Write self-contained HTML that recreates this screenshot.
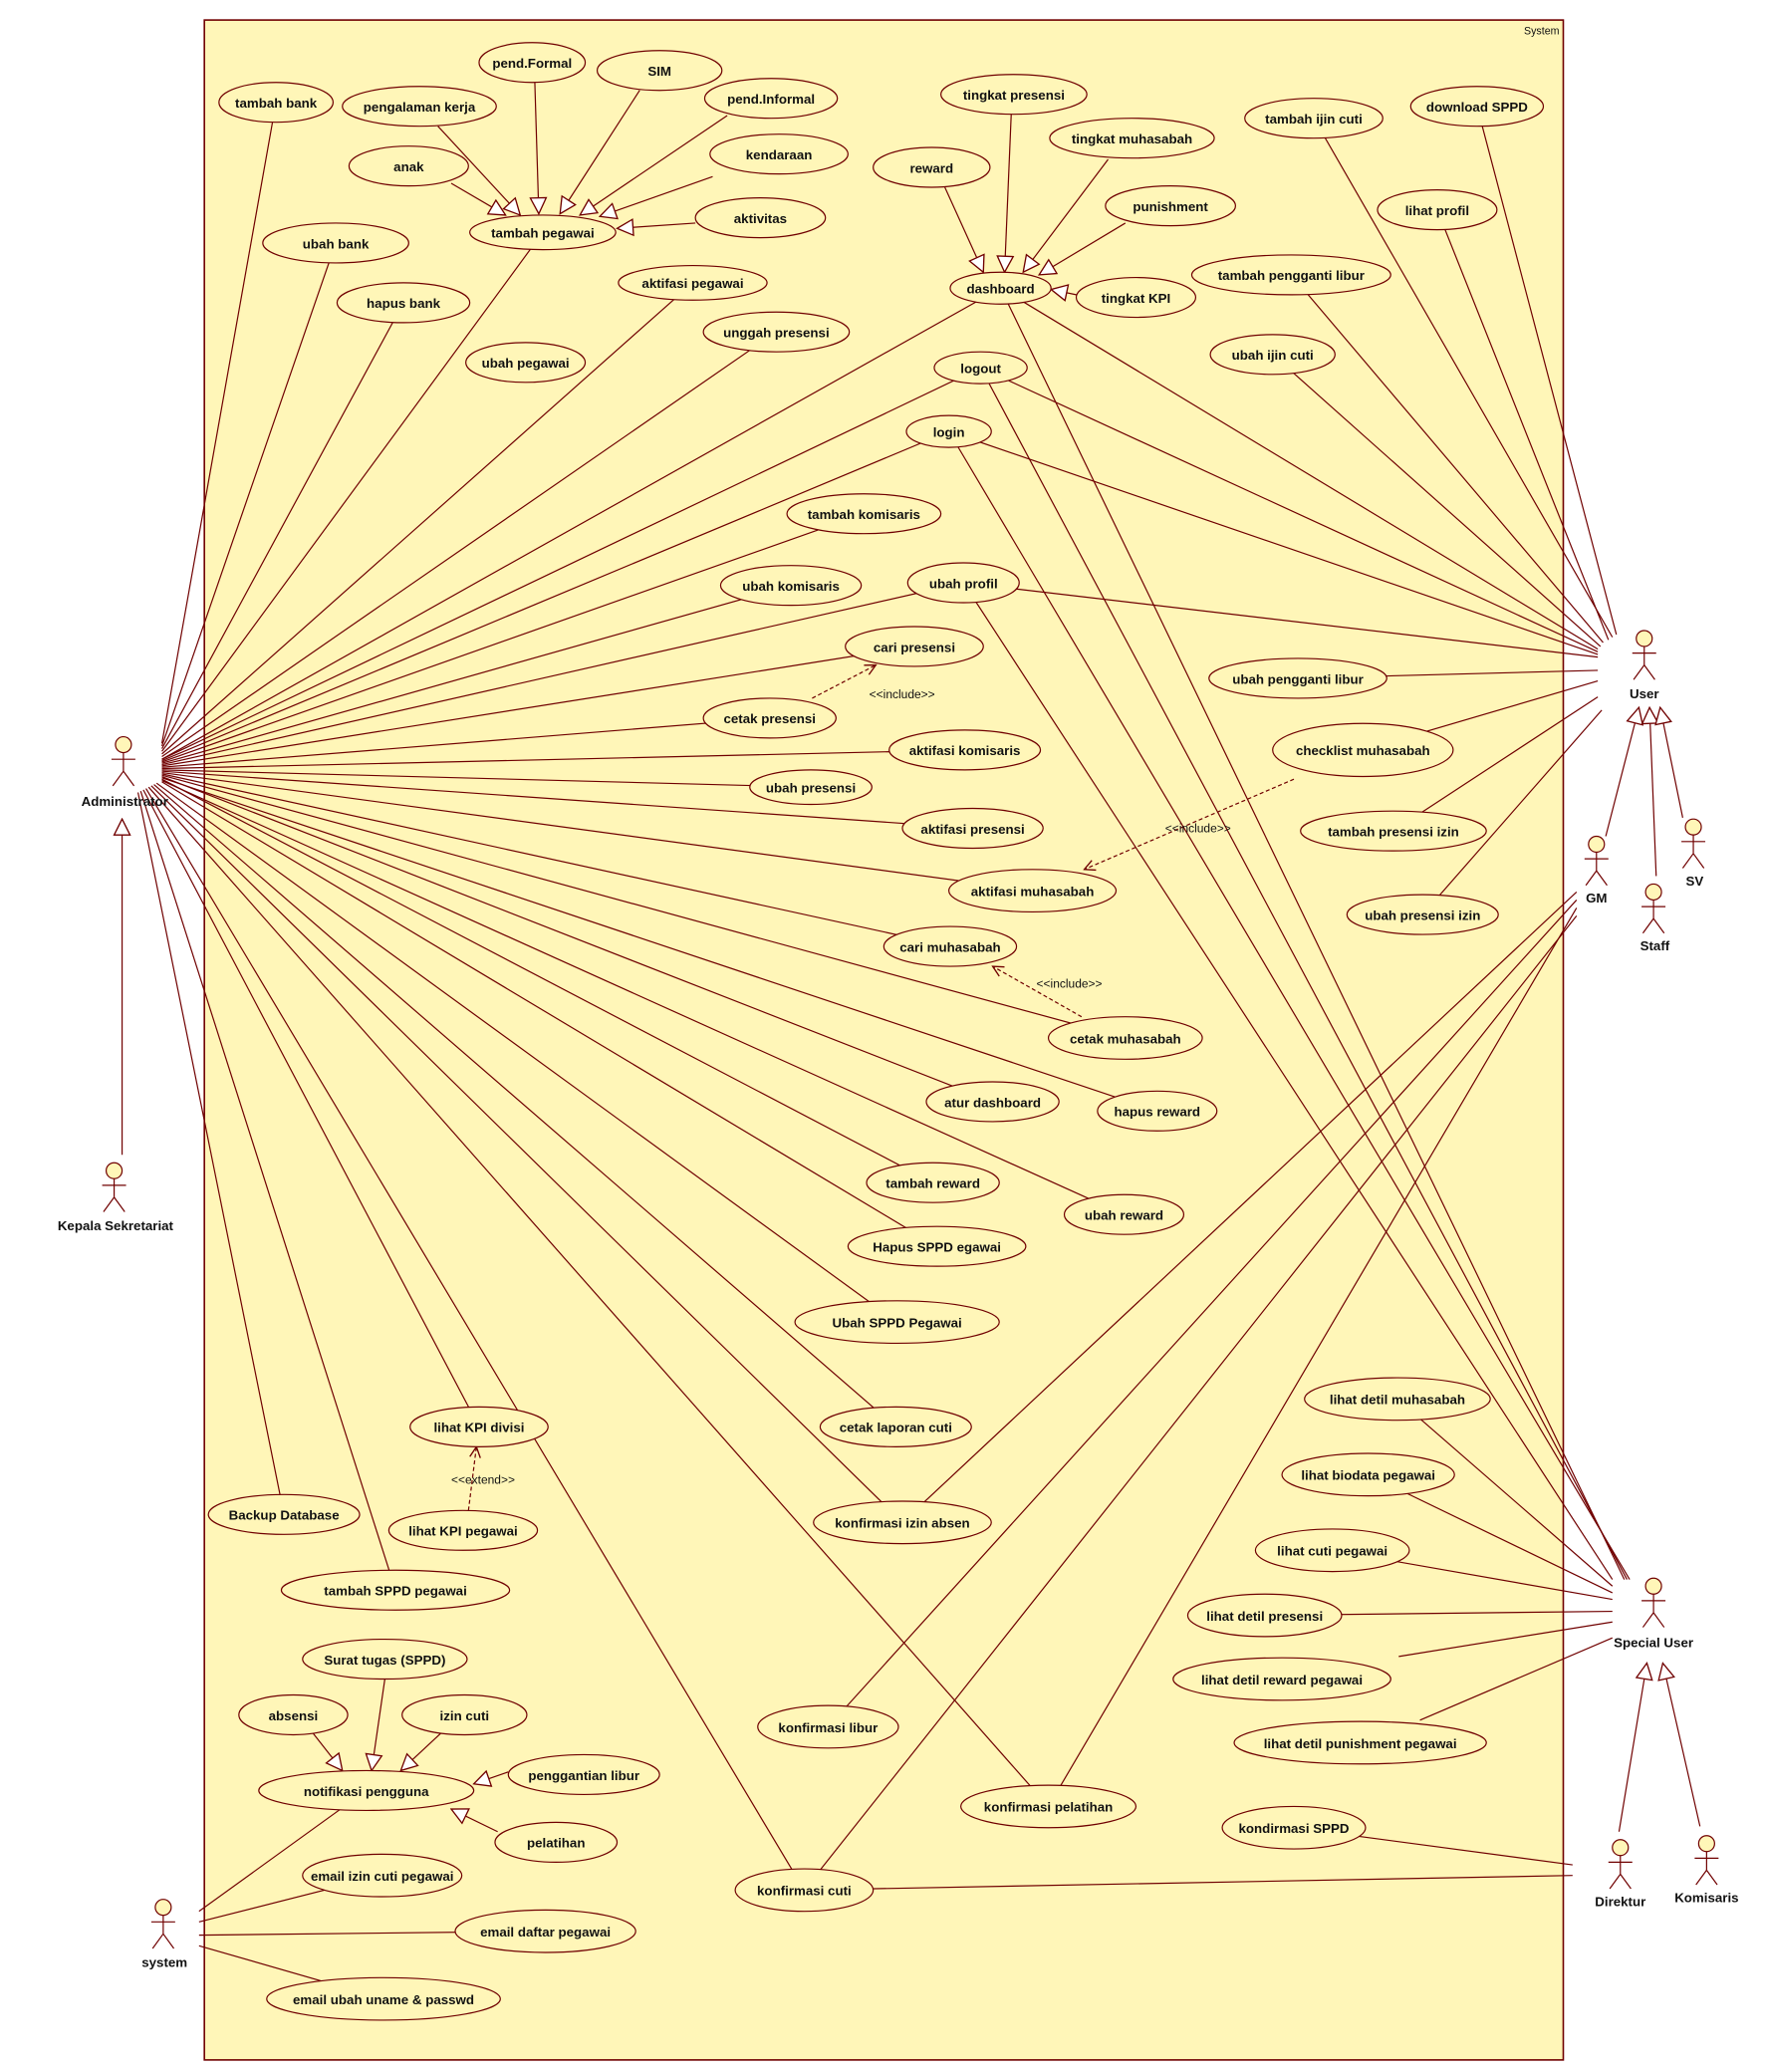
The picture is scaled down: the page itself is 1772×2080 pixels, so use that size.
<!DOCTYPE html>
<html><head><meta charset="utf-8"><style>
html,body{margin:0;padding:0;background:#fff;}
svg{display:block;}
text{font-family:"Liberation Sans",sans-serif;font-weight:bold;font-size:10px;fill:#111;}
</style></head><body>
<svg width="1772" height="2080" viewBox="0 0 1330 1561" xmlns="http://www.w3.org/2000/svg">
<defs>
<marker id="gen" markerWidth="14" markerHeight="14" refX="13" refY="7" orient="auto" markerUnits="userSpaceOnUse"><path d="M1,1 L13,7 L1,13 Z" fill="#fff" stroke="#700000" stroke-width="1"/></marker>
<marker id="opn" markerWidth="10" markerHeight="10" refX="9" refY="5" orient="auto" markerUnits="userSpaceOnUse"><path d="M1,1 L9,5 L1,9" fill="none" stroke="#700000" stroke-width="1"/></marker>
</defs>
<rect x="154" y="15" width="1024" height="1537" fill="#fff6b8" stroke="#700000" stroke-width="1.2"/>
<text x="1175" y="26" text-anchor="end" style="font-weight:normal;font-size:8px">System</text>

<g stroke="#700000" stroke-width="0.9" fill="none">
<!-- Administrator -->
<line x1="122" y1="560" x2="208" y2="77"/>
<line x1="122" y1="562" x2="253" y2="183"/>
<line x1="122" y1="564" x2="304" y2="228"/>
<line x1="122" y1="566" x2="409" y2="175"/>
<line x1="122" y1="568" x2="522" y2="213"/>
<line x1="122" y1="570" x2="585" y2="250"/>
<line x1="122" y1="572" x2="754" y2="217"/>
<line x1="122" y1="572" x2="739" y2="277"/>
<line x1="122" y1="573" x2="715" y2="325"/>
<line x1="122" y1="574" x2="651" y2="387"/>
<line x1="122" y1="575" x2="596" y2="441"/>
<line x1="122" y1="576" x2="726" y2="439"/>
<line x1="122" y1="577" x2="689" y2="487"/>
<line x1="122" y1="578" x2="580" y2="541"/>
<line x1="122" y1="579" x2="727" y2="565"/>
<line x1="122" y1="580" x2="611" y2="593"/>
<line x1="122" y1="581" x2="733" y2="624"/>
<line x1="122" y1="582" x2="778" y2="671"/>
<line x1="122" y1="583" x2="716" y2="713"/>
<line x1="122" y1="584" x2="848" y2="782"/>
<line x1="122" y1="585" x2="748" y2="830"/>
<line x1="122" y1="586" x2="872" y2="837"/>
<line x1="122" y1="587" x2="703" y2="891"/>
<line x1="122" y1="588" x2="847" y2="915"/>
<line x1="122" y1="589" x2="706" y2="939"/>
<line x1="118" y1="590" x2="676" y2="996"/>
<line x1="116" y1="591" x2="675" y2="1075"/>
<line x1="114" y1="592" x2="680" y2="1147"/>
<line x1="112" y1="593" x2="790" y2="1361"/>
<line x1="110" y1="594" x2="606" y2="1424"/>
<line x1="108" y1="595" x2="361" y2="1075"/>
<line x1="106" y1="596" x2="298" y2="1198"/>
<line x1="104" y1="597" x2="214" y2="1141"/>
<!-- User -->
<line x1="1215" y1="480" x2="990" y2="89"/>
<line x1="1218" y1="478" x2="1113" y2="80"/>
<line x1="1212" y1="482" x2="1083" y2="158"/>
<line x1="1208" y1="484" x2="973" y2="207"/>
<line x1="1206" y1="487" x2="959" y2="267"/>
<line x1="1204" y1="489" x2="754" y2="217"/>
<line x1="1204" y1="491" x2="739" y2="277"/>
<line x1="1204" y1="493" x2="715" y2="325"/>
<line x1="1204" y1="495" x2="726" y2="439"/>
<line x1="1204" y1="505" x2="978" y2="511"/>
<line x1="1204" y1="513" x2="1027" y2="565"/>
<line x1="1204" y1="525" x2="1050" y2="626"/>
<line x1="1207" y1="535" x2="1072" y2="689"/>
<!-- GM area to konfirmasi -->
<line x1="1188" y1="672" x2="680" y2="1147"/>
<line x1="1188" y1="678" x2="624" y2="1301"/>
<line x1="1188" y1="684" x2="790" y2="1361"/>
<line x1="1188" y1="690" x2="606" y2="1424"/>
<!-- Special User -->
<line x1="1224" y1="1190" x2="754" y2="217"/>
<line x1="1226" y1="1190" x2="739" y2="277"/>
<line x1="1228" y1="1190" x2="715" y2="325"/>
<line x1="1215" y1="1190" x2="726" y2="439"/>
<line x1="1215" y1="1195" x2="1053" y2="1054"/>
<line x1="1215" y1="1200" x2="1031" y2="1111"/>
<line x1="1215" y1="1205" x2="1004" y2="1168"/>
<line x1="1215" y1="1214" x2="953" y2="1217"/>
<line x1="1215" y1="1222" x2="1054" y2="1248"/>
<line x1="1215" y1="1234" x2="1070" y2="1296"/>
<!-- Direktur -->
<line x1="1185" y1="1405" x2="975" y2="1377"/>
<line x1="1185" y1="1413" x2="606" y2="1424"/>
<!-- system -->
<line x1="150" y1="1440" x2="276" y2="1349"/>
<line x1="150" y1="1448" x2="288" y2="1413"/>
<line x1="150" y1="1458" x2="411" y2="1455"/>
<line x1="150" y1="1466" x2="289" y2="1506"/>
</g>

<!-- generalizations to use cases -->
<g stroke="#700000" stroke-width="0.9" fill="none" marker-end="url(#gen)">
<line x1="340" y1="138" x2="381" y2="162"/>
<line x1="330" y1="95" x2="392" y2="162"/>
<line x1="403" y1="62" x2="406" y2="161"/>
<line x1="482" y1="68" x2="422" y2="161"/>
<line x1="548" y1="87" x2="437" y2="162"/>
<line x1="537" y1="133" x2="452" y2="163"/>
<line x1="524" y1="168" x2="465" y2="172"/>
<line x1="712" y1="141" x2="741" y2="205"/>
<line x1="762" y1="86" x2="757" y2="205"/>
<line x1="835" y1="120" x2="771" y2="205"/>
<line x1="848" y1="168" x2="783" y2="207"/>
<line x1="811" y1="222" x2="792" y2="218"/>
<line x1="236" y1="1306" x2="258" y2="1334"/>
<line x1="290" y1="1265" x2="280" y2="1334"/>
<line x1="332" y1="1306" x2="302" y2="1334"/>
<line x1="383" y1="1335" x2="357" y2="1344"/>
<line x1="375" y1="1380" x2="340" y2="1363"/>
<!-- actor generalizations -->
<line x1="92" y1="870" x2="92" y2="617"/>
<line x1="1210" y1="630" x2="1235" y2="533"/>
<line x1="1248" y1="660" x2="1243" y2="533"/>
<line x1="1268" y1="616" x2="1251" y2="533"/>
<line x1="1220" y1="1380" x2="1241" y2="1253"/>
<line x1="1281" y1="1376" x2="1253" y2="1253"/>
</g>

<!-- include / extend -->
<g stroke="#700000" stroke-width="0.9" fill="none" stroke-dasharray="3,2" marker-end="url(#opn)">
<line x1="612" y1="526" x2="660" y2="501"/>
<line x1="975" y1="587" x2="817" y2="655"/>
<line x1="815" y1="766" x2="748" y2="728"/>
<line x1="353" y1="1138" x2="359" y2="1090"/>
</g>
<text x="655" y="526" style="font-weight:normal;font-size:9px">&lt;&lt;include&gt;&gt;</text>
<text x="878" y="627" style="font-weight:normal;font-size:9px">&lt;&lt;include&gt;&gt;</text>
<text x="781" y="744" style="font-weight:normal;font-size:9px">&lt;&lt;include&gt;&gt;</text>
<text x="340" y="1118" style="font-weight:normal;font-size:9px">&lt;&lt;extend&gt;&gt;</text>

<g stroke="#700000" stroke-width="0.9" fill="#fff6b8">
<ellipse cx="208" cy="77" rx="43" ry="15"/>
<ellipse cx="316" cy="80" rx="58" ry="15"/>
<ellipse cx="401" cy="47" rx="40" ry="15"/>
<ellipse cx="497" cy="53" rx="47" ry="15"/>
<ellipse cx="581" cy="74" rx="50" ry="15"/>
<ellipse cx="308" cy="125" rx="45" ry="15"/>
<ellipse cx="587" cy="116" rx="52" ry="15"/>
<ellipse cx="573" cy="164" rx="49" ry="15"/>
<ellipse cx="409" cy="175" rx="55" ry="13"/>
<ellipse cx="253" cy="183" rx="55" ry="15"/>
<ellipse cx="304" cy="228" rx="50" ry="15"/>
<ellipse cx="522" cy="213" rx="56" ry="13"/>
<ellipse cx="585" cy="250" rx="55" ry="15"/>
<ellipse cx="396" cy="273" rx="45" ry="15"/>
<ellipse cx="764" cy="71" rx="55" ry="15"/>
<ellipse cx="702" cy="126" rx="44" ry="15"/>
<ellipse cx="853" cy="104" rx="62" ry="15"/>
<ellipse cx="882" cy="155" rx="49" ry="15"/>
<ellipse cx="754" cy="217" rx="38" ry="12"/>
<ellipse cx="856" cy="224" rx="45" ry="15"/>
<ellipse cx="739" cy="277" rx="35" ry="12"/>
<ellipse cx="715" cy="325" rx="32" ry="12"/>
<ellipse cx="990" cy="89" rx="52" ry="15"/>
<ellipse cx="1113" cy="80" rx="50" ry="15"/>
<ellipse cx="1083" cy="158" rx="45" ry="15"/>
<ellipse cx="973" cy="207" rx="75" ry="15"/>
<ellipse cx="959" cy="267" rx="47" ry="15"/>
<ellipse cx="651" cy="387" rx="58" ry="15"/>
<ellipse cx="596" cy="441" rx="53" ry="15"/>
<ellipse cx="726" cy="439" rx="42" ry="15"/>
<ellipse cx="689" cy="487" rx="52" ry="15"/>
<ellipse cx="580" cy="541" rx="50" ry="15"/>
<ellipse cx="978" cy="511" rx="67" ry="15"/>
<ellipse cx="1027" cy="565" rx="68" ry="20"/>
<ellipse cx="727" cy="565" rx="57" ry="15"/>
<ellipse cx="611" cy="593" rx="46" ry="13"/>
<ellipse cx="733" cy="624" rx="53" ry="15"/>
<ellipse cx="1050" cy="626" rx="70" ry="15"/>
<ellipse cx="778" cy="671" rx="63" ry="16"/>
<ellipse cx="1072" cy="689" rx="57" ry="15"/>
<ellipse cx="716" cy="713" rx="50" ry="15"/>
<ellipse cx="848" cy="782" rx="58" ry="16"/>
<ellipse cx="748" cy="830" rx="50" ry="15"/>
<ellipse cx="872" cy="837" rx="45" ry="15"/>
<ellipse cx="703" cy="891" rx="50" ry="15"/>
<ellipse cx="847" cy="915" rx="45" ry="15"/>
<ellipse cx="706" cy="939" rx="67" ry="15"/>
<ellipse cx="676" cy="996" rx="77" ry="16"/>
<ellipse cx="675" cy="1075" rx="57" ry="15"/>
<ellipse cx="361" cy="1075" rx="52" ry="15"/>
<ellipse cx="214" cy="1141" rx="57" ry="15"/>
<ellipse cx="349" cy="1153" rx="56" ry="15"/>
<ellipse cx="680" cy="1147" rx="67" ry="16"/>
<ellipse cx="298" cy="1198" rx="86" ry="15"/>
<ellipse cx="1053" cy="1054" rx="70" ry="16"/>
<ellipse cx="1031" cy="1111" rx="65" ry="16"/>
<ellipse cx="1004" cy="1168" rx="58" ry="16"/>
<ellipse cx="953" cy="1217" rx="58" ry="16"/>
<ellipse cx="966" cy="1265" rx="82" ry="16"/>
<ellipse cx="1025" cy="1313" rx="95" ry="16"/>
<ellipse cx="290" cy="1250" rx="62" ry="15"/>
<ellipse cx="221" cy="1292" rx="41" ry="15"/>
<ellipse cx="350" cy="1292" rx="47" ry="15"/>
<ellipse cx="276" cy="1349" rx="81" ry="15"/>
<ellipse cx="440" cy="1337" rx="57" ry="15"/>
<ellipse cx="419" cy="1388" rx="46" ry="15"/>
<ellipse cx="624" cy="1301" rx="53" ry="16"/>
<ellipse cx="790" cy="1361" rx="66" ry="16"/>
<ellipse cx="975" cy="1377" rx="54" ry="16"/>
<ellipse cx="606" cy="1424" rx="52" ry="16"/>
<ellipse cx="288" cy="1413" rx="60" ry="16"/>
<ellipse cx="411" cy="1455" rx="68" ry="16"/>
<ellipse cx="289" cy="1506" rx="88" ry="16"/>
</g>

<g text-anchor="middle">
<text x="208" y="81">tambah bank</text>
<text x="316" y="84">pengalaman kerja</text>
<text x="401" y="51">pend.Formal</text>
<text x="497" y="57">SIM</text>
<text x="581" y="78">pend.Informal</text>
<text x="308" y="129">anak</text>
<text x="587" y="120">kendaraan</text>
<text x="573" y="168">aktivitas</text>
<text x="409" y="179">tambah pegawai</text>
<text x="253" y="187">ubah bank</text>
<text x="304" y="232">hapus bank</text>
<text x="522" y="217">aktifasi pegawai</text>
<text x="585" y="254">unggah presensi</text>
<text x="396" y="277">ubah pegawai</text>
<text x="764" y="75">tingkat presensi</text>
<text x="702" y="130">reward</text>
<text x="853" y="108">tingkat muhasabah</text>
<text x="882" y="159">punishment</text>
<text x="754" y="221">dashboard</text>
<text x="856" y="228">tingkat KPI</text>
<text x="739" y="281">logout</text>
<text x="715" y="329">login</text>
<text x="990" y="93">tambah ijin cuti</text>
<text x="1113" y="84">download SPPD</text>
<text x="1083" y="162">lihat profil</text>
<text x="973" y="211">tambah pengganti libur</text>
<text x="959" y="271">ubah ijin cuti</text>
<text x="651" y="391">tambah komisaris</text>
<text x="596" y="445">ubah komisaris</text>
<text x="726" y="443">ubah profil</text>
<text x="689" y="491">cari presensi</text>
<text x="580" y="545">cetak presensi</text>
<text x="978" y="515">ubah pengganti libur</text>
<text x="1027" y="569">checklist muhasabah</text>
<text x="727" y="569">aktifasi komisaris</text>
<text x="611" y="597">ubah presensi</text>
<text x="733" y="628">aktifasi presensi</text>
<text x="1050" y="630">tambah presensi izin</text>
<text x="778" y="675">aktifasi muhasabah</text>
<text x="1072" y="693">ubah presensi izin</text>
<text x="716" y="717">cari muhasabah</text>
<text x="848" y="786">cetak muhasabah</text>
<text x="748" y="834">atur dashboard</text>
<text x="872" y="841">hapus reward</text>
<text x="703" y="895">tambah reward</text>
<text x="847" y="919">ubah reward</text>
<text x="706" y="943">Hapus SPPD egawai</text>
<text x="676" y="1000">Ubah SPPD Pegawai</text>
<text x="675" y="1079">cetak laporan cuti</text>
<text x="361" y="1079">lihat KPI divisi</text>
<text x="214" y="1145">Backup Database</text>
<text x="349" y="1157">lihat KPI pegawai</text>
<text x="680" y="1151">konfirmasi izin absen</text>
<text x="298" y="1202">tambah SPPD pegawai</text>
<text x="1053" y="1058">lihat detil muhasabah</text>
<text x="1031" y="1115">lihat biodata pegawai</text>
<text x="1004" y="1172">lihat cuti pegawai</text>
<text x="953" y="1221">lihat detil presensi</text>
<text x="966" y="1269">lihat detil reward pegawai</text>
<text x="1025" y="1317">lihat detil punishment pegawai</text>
<text x="290" y="1254">Surat tugas (SPPD)</text>
<text x="221" y="1296">absensi</text>
<text x="350" y="1296">izin cuti</text>
<text x="276" y="1353">notifikasi pengguna</text>
<text x="440" y="1341">penggantian libur</text>
<text x="419" y="1392">pelatihan</text>
<text x="624" y="1305">konfirmasi libur</text>
<text x="790" y="1365">konfirmasi pelatihan</text>
<text x="975" y="1381">kondirmasi SPPD</text>
<text x="606" y="1428">konfirmasi cuti</text>
<text x="288" y="1417">email izin cuti pegawai</text>
<text x="411" y="1459">email daftar pegawai</text>
<text x="289" y="1510">email ubah uname &amp; passwd</text>
</g>

<!-- actors -->
<g stroke="#700000" stroke-width="0.9" fill="none">
<g transform="translate(93,561)"><circle cy="0" r="6" fill="#fff6b8"/><line x1="0" y1="6" x2="0" y2="20"/><line x1="-9" y1="11" x2="9" y2="11"/><line x1="0" y1="20" x2="-8" y2="31"/><line x1="0" y1="20" x2="8" y2="31"/></g>
<g transform="translate(86,882)"><circle cy="0" r="6" fill="#fff6b8"/><line x1="0" y1="6" x2="0" y2="20"/><line x1="-9" y1="11" x2="9" y2="11"/><line x1="0" y1="20" x2="-8" y2="31"/><line x1="0" y1="20" x2="8" y2="31"/></g>
<g transform="translate(1239,481)"><circle cy="0" r="6" fill="#fff6b8"/><line x1="0" y1="6" x2="0" y2="20"/><line x1="-9" y1="11" x2="9" y2="11"/><line x1="0" y1="20" x2="-8" y2="31"/><line x1="0" y1="20" x2="8" y2="31"/></g>
<g transform="translate(1203,636)"><circle cy="0" r="6" fill="#fff6b8"/><line x1="0" y1="6" x2="0" y2="20"/><line x1="-9" y1="11" x2="9" y2="11"/><line x1="0" y1="20" x2="-8" y2="31"/><line x1="0" y1="20" x2="8" y2="31"/></g>
<g transform="translate(1246,672)"><circle cy="0" r="6" fill="#fff6b8"/><line x1="0" y1="6" x2="0" y2="20"/><line x1="-9" y1="11" x2="9" y2="11"/><line x1="0" y1="20" x2="-8" y2="31"/><line x1="0" y1="20" x2="8" y2="31"/></g>
<g transform="translate(1276,623)"><circle cy="0" r="6" fill="#fff6b8"/><line x1="0" y1="6" x2="0" y2="20"/><line x1="-9" y1="11" x2="9" y2="11"/><line x1="0" y1="20" x2="-8" y2="31"/><line x1="0" y1="20" x2="8" y2="31"/></g>
<g transform="translate(1246,1195)"><circle cy="0" r="6" fill="#fff6b8"/><line x1="0" y1="6" x2="0" y2="20"/><line x1="-9" y1="11" x2="9" y2="11"/><line x1="0" y1="20" x2="-8" y2="31"/><line x1="0" y1="20" x2="8" y2="31"/></g>
<g transform="translate(1221,1392)"><circle cy="0" r="6" fill="#fff6b8"/><line x1="0" y1="6" x2="0" y2="20"/><line x1="-9" y1="11" x2="9" y2="11"/><line x1="0" y1="20" x2="-8" y2="31"/><line x1="0" y1="20" x2="8" y2="31"/></g>
<g transform="translate(1286,1389)"><circle cy="0" r="6" fill="#fff6b8"/><line x1="0" y1="6" x2="0" y2="20"/><line x1="-9" y1="11" x2="9" y2="11"/><line x1="0" y1="20" x2="-8" y2="31"/><line x1="0" y1="20" x2="8" y2="31"/></g>
<g transform="translate(123,1437)"><circle cy="0" r="6" fill="#fff6b8"/><line x1="0" y1="6" x2="0" y2="20"/><line x1="-9" y1="11" x2="9" y2="11"/><line x1="0" y1="20" x2="-8" y2="31"/><line x1="0" y1="20" x2="8" y2="31"/></g>
</g>
<g text-anchor="middle" style="font-size:9.5px">
<text x="94" y="607">Administrator</text>
<text x="87" y="927">Kepala Sekretariat</text>
<text x="1239" y="526">User</text>
<text x="1203" y="680">GM</text>
<text x="1247" y="716">Staff</text>
<text x="1277" y="667">SV</text>
<text x="1246" y="1241">Special User</text>
<text x="1221" y="1436">Direktur</text>
<text x="1286" y="1433">Komisaris</text>
<text x="124" y="1482">system</text>
</g>
</svg>
</body></html>
